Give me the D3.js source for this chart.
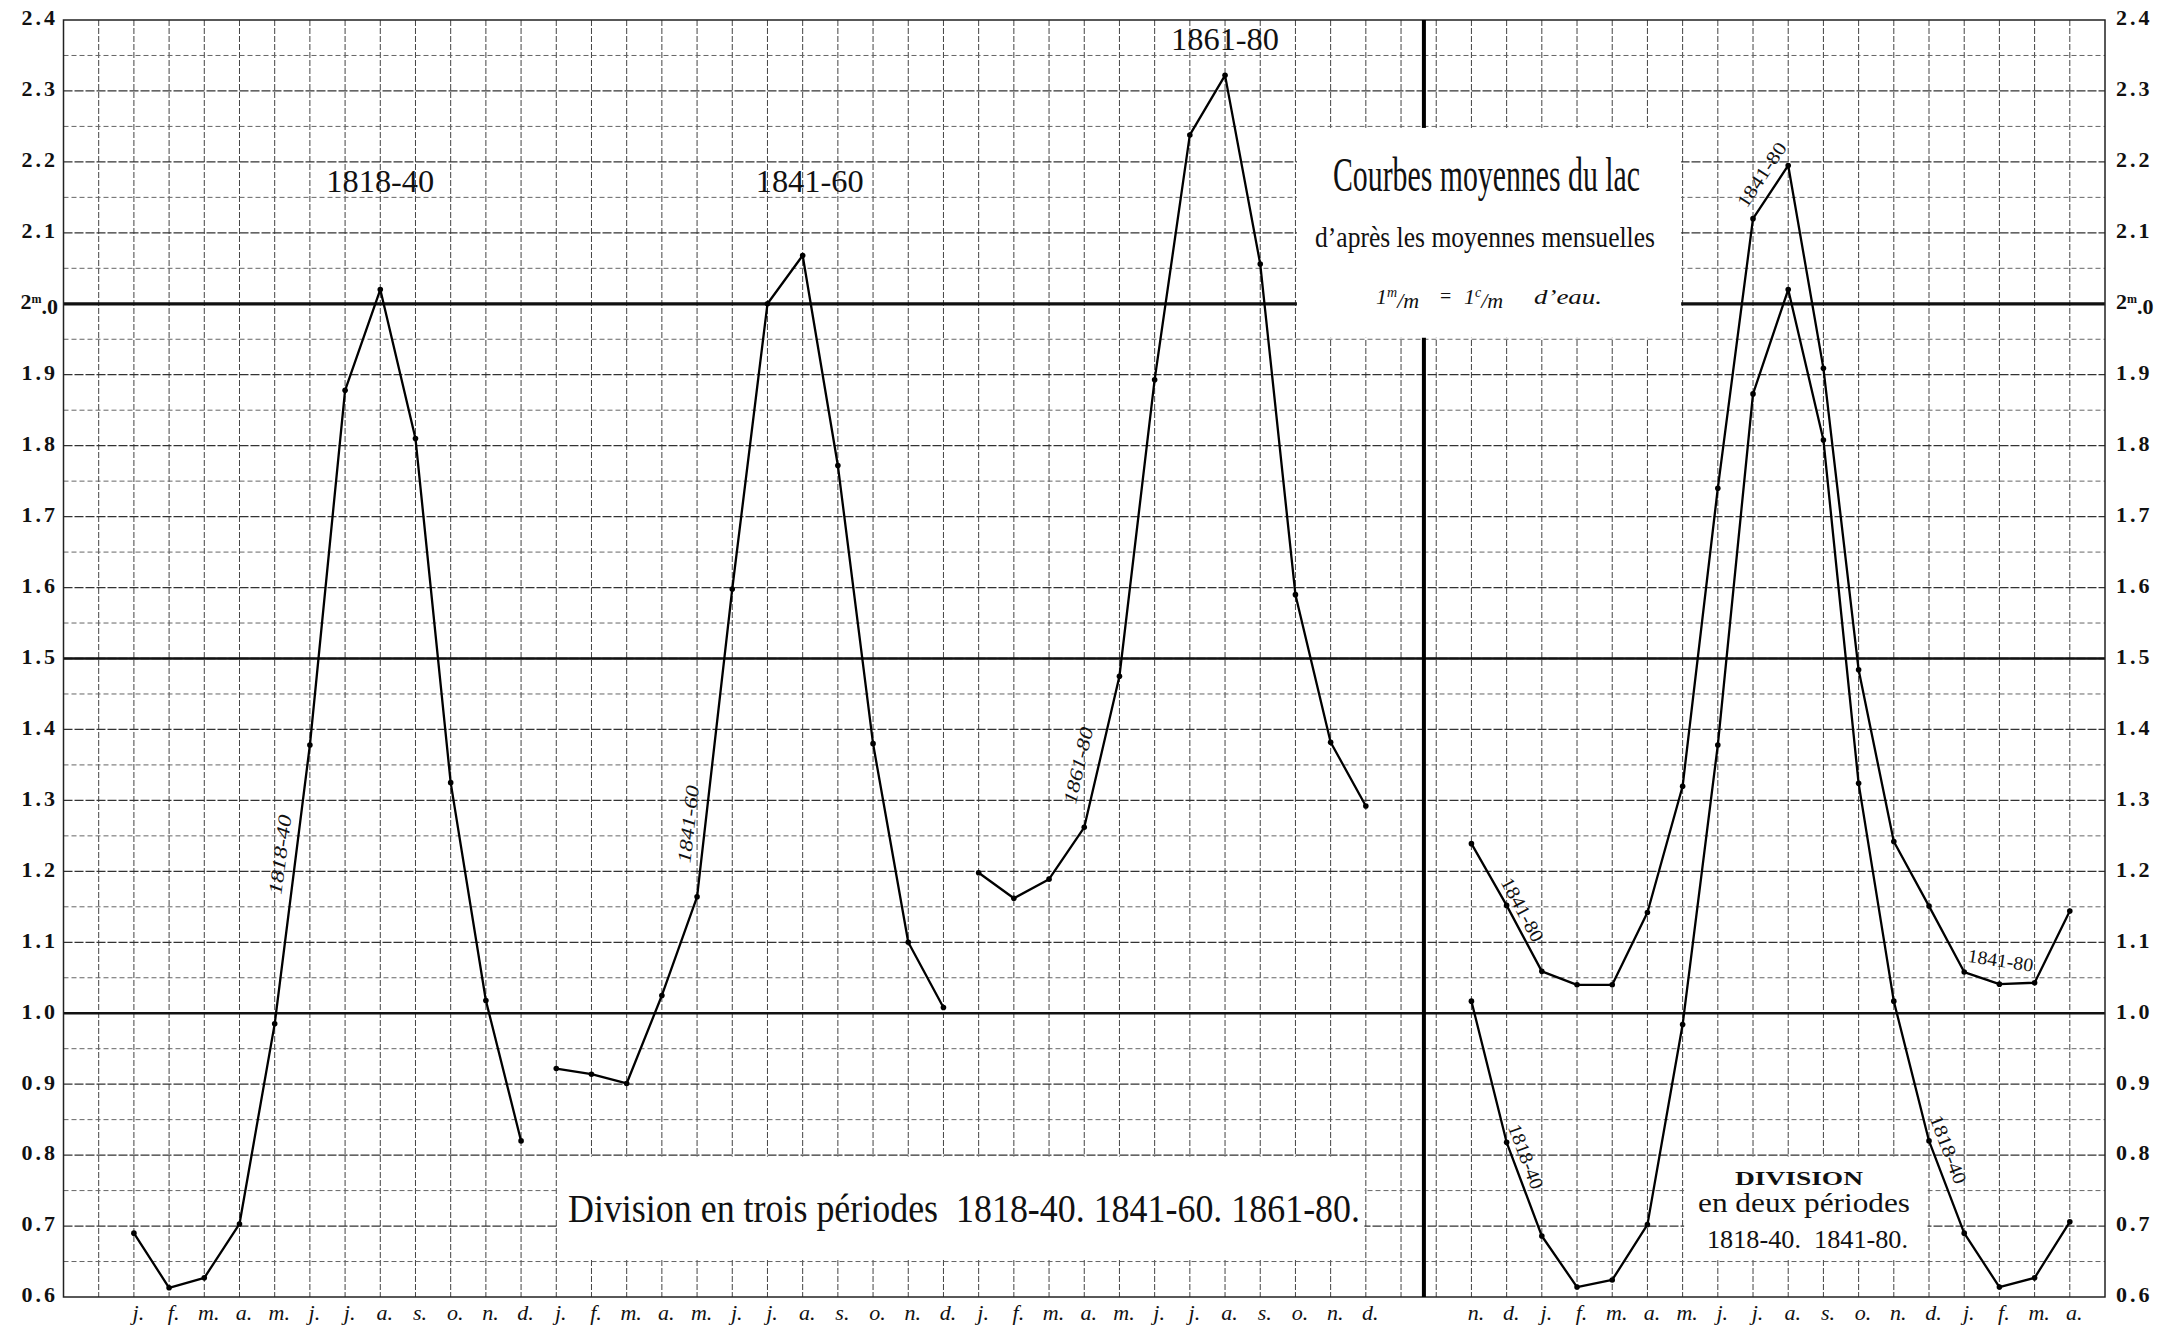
<!DOCTYPE html>
<html>
<head>
<meta charset="utf-8">
<script src="https://cdn.jsdelivr.net/npm/d3@7"></script>
<style>
  body { margin: 0; background: #fff; }
  svg { display: block; }
</style>
</head>
<body>
<div id="chart"></div>
<script>
// --- Data (metres) ---
const months = ["j.", "f.", "m.", "a.", "m.", "j.", "j.", "a.", "s.", "o.", "n.", "d."];
const rightMonths = ["n.", "d.", "j.", "f.", "m.", "a.", "m.", "j.", "j.", "a.", "s.", "o.", "n.", "d.", "j.", "f.", "m.", "a."];

const periods = ["1818-40", "1841-60", "1861-80"];
const level1818_40 = [0.69, 0.613, 0.627, 0.703, 0.985, 1.378, 1.878, 2.02, 1.81, 1.325, 1.018, 0.82];
const level1841_60 = [0.922, 0.914, 0.901, 1.025, 1.164, 1.598, 2.0, 2.068, 1.772, 1.38, 1.10, 1.008];
const level1861_80 = [1.198, 1.162, 1.189, 1.262, 1.475, 1.893, 2.238, 2.322, 2.056, 1.59, 1.382, 1.292];

// right panel: nov .. april of the year after next
const right1818_40 = [1.017, 0.818, 0.686, 0.614, 0.624, 0.702, 0.984, 1.378, 1.873, 2.02, 1.808, 1.324, 1.017, 0.82, 0.69, 0.614, 0.627, 0.706];
const right1841_80 = [1.239, 1.152, 1.059, 1.04, 1.04, 1.142, 1.32, 1.74, 2.12, 2.195, 1.909, 1.484, 1.242, 1.151, 1.058, 1.041, 1.043, 1.144];

const tickValues = [2.4, 2.3, 2.2, 2.1, 2.0, 1.9, 1.8, 1.7, 1.6, 1.5, 1.4, 1.3, 1.2, 1.1, 1.0, 0.9, 0.8, 0.7, 0.6];

const serif = "'Liberation Serif', 'DejaVu Serif', serif";

function drawChart() {
  const width = 2179, height = 1331;
  const svg = d3.select("#chart").append("svg")
    .attr("width", width)
    .attr("height", height)
    .style("background", "#fff");

  // month slots: -2 .. 56, the left block starts at 0, the right one at 38
  const x = d3.scaleLinear().domain([-2, 56]).range([63.5, 2105]);
  const y = d3.scaleLinear().domain([0.6, 2.4]).range([1297, 20]);
  const rightStart = 38;

  // --- grid ---
  const grid = svg.append("g");
  grid.selectAll(".vgrid")
    .data(d3.range(-1, 56))
    .enter().append("line")
    .attr("x1", d => x(d)).attr("x2", d => x(d))
    .attr("y1", y(2.4)).attr("y2", y(0.6))
    .attr("stroke", "#444")
    .attr("stroke-width", 1)
    .attr("stroke-dasharray", "6 2");

  const isTenth = d => Math.abs(d * 10 - Math.round(d * 10)) < 0.01;
  const hVals = d3.range(13, 48).map(k => k * 0.05).filter(v => v > 0.62 && v < 2.38);
  grid.selectAll(".hgrid")
    .data(hVals)
    .enter().append("line")
    .attr("x1", x(-2)).attr("x2", x(56))
    .attr("y1", d => y(d)).attr("y2", d => y(d))
    .attr("stroke", d => isTenth(d) ? "#333" : "#666")
    .attr("stroke-width", d => isTenth(d) ? 1.3 : 1)
    .attr("stroke-dasharray", d => isTenth(d) ? "9 2" : "5 3");

  // heavy lines at 1.0, 1.5, 2.0
  grid.selectAll(".heavy")
    .data([1.0, 1.5, 2.0])
    .enter().append("line")
    .attr("x1", x(-2)).attr("x2", x(56))
    .attr("y1", d => y(d)).attr("y2", d => y(d))
    .attr("stroke", "#111")
    .attr("stroke-width", d => d === 2.0 ? 3.2 : 2.6);

  // frame
  grid.append("rect")
    .attr("x", x(-2)).attr("y", y(2.4))
    .attr("width", x(56) - x(-2)).attr("height", y(0.6) - y(2.4))
    .attr("fill", "none").attr("stroke", "#222").attr("stroke-width", 1.5);

  // divider between the two divisions
  grid.append("line")
    .attr("x1", x(36.65)).attr("x2", x(36.65))
    .attr("y1", y(2.4)).attr("y2", y(0.6))
    .attr("stroke", "#000").attr("stroke-width", 4);

  // --- white cartouches ---
  const boxes = [
    { i0: 33, i1: 44, v0: 2.25, v1: 1.95 },
    { i0: 12, i1: 35, v0: 0.8, v1: 0.65 },
    { i0: 44, i1: 51, v0: 0.8, v1: 0.65 }
  ];
  svg.selectAll(".box")
    .data(boxes)
    .enter().append("rect")
    .attr("x", d => x(d.i0) + 1.5)
    .attr("y", d => y(d.v0) + 1.5)
    .attr("width", d => x(d.i1) - x(d.i0) - 3)
    .attr("height", d => y(d.v1) - y(d.v0) - 3)
    .attr("fill", "#fff");

  // --- series ---
  const series = [
    { name: "1818-40", start: 0, values: level1818_40 },
    { name: "1841-60", start: 12, values: level1841_60 },
    { name: "1861-80", start: 24, values: level1861_80 },
    { name: "r1818-40", start: rightStart, values: right1818_40 },
    { name: "r1841-80", start: rightStart, values: right1841_80 }
  ];
  const pts = s => s.values.map((v, k) => [s.start + k, v]);
  const line = d3.line().x(d => x(d[0])).y(d => y(d[1]));

  svg.selectAll(".curve")
    .data(series)
    .enter().append("path")
    .attr("d", d => line(pts(d)))
    .attr("fill", "none")
    .attr("stroke", "#000")
    .attr("stroke-width", 2.3)
    .attr("stroke-linejoin", "round");

  svg.selectAll(".dots")
    .data(series)
    .enter().append("g")
    .selectAll("circle")
    .data(d => pts(d))
    .enter().append("circle")
    .attr("cx", d => x(d[0]))
    .attr("cy", d => y(d[1]))
    .attr("r", 2.8)
    .attr("fill", "#000");

  // --- labels written along the curves ---
  const byName = Object.fromEntries(series.map(s => [s.name, s]));
  const curveLabels = [
    { text: "1818-40", s: "1818-40", i0: 4, i1: 5, t: 0.6, d: 16, italic: true, len: 80 },
    { text: "1841-60", s: "1841-60", i0: 16, i1: 17, t: 0.23, d: 17, italic: true, len: 78 },
    { text: "1861-80", s: "1861-80", i0: 27, i1: 28, t: 0.38, d: 20, italic: true, len: 78 },
    { text: "1841-80", s: "r1841-80", i0: 46, i1: 47, t: 0.65, d: 17, italic: false, len: 74 },
    { text: "1841-80", s: "r1841-80", i0: 39, i1: 40, t: 0.15, d: 12, italic: false, len: 70 },
    { text: "1818-40", s: "r1818-40", i0: 39, i1: 40, t: 0.2, d: 13, italic: false, len: 68 },
    { text: "1818-40", s: "r1818-40", i0: 51, i1: 52, t: 0.15, d: 15, italic: false, len: 72 },
    { text: "1841-80", s: "r1841-80", i0: 52, i1: 54, t: 0.48, d: 17, italic: false, len: 66 }
  ];
  curveLabels.forEach(l => {
    const s = byName[l.s];
    const ax = x(l.i0), ay = y(s.values[l.i0 - s.start]);
    const bx = x(l.i1), by = y(s.values[l.i1 - s.start]);
    const dx = bx - ax, dy = by - ay, len = Math.hypot(dx, dy);
    const ang = Math.atan2(dy, dx) * 180 / Math.PI;
    const nx = dy / len, ny = -dx / len;
    const cx = ax + dx * l.t + nx * l.d, cy = ay + dy * l.t + ny * l.d;
    svg.append("text")
      .attr("transform", `translate(${cx},${cy}) rotate(${ang})`)
      .attr("text-anchor", "middle")
      .attr("dominant-baseline", "central")
      .attr("textLength", l.len)
      .attr("lengthAdjust", "spacingAndGlyphs")
      .style("font-family", serif)
      .style("font-style", l.italic ? "italic" : "normal")
      .style("font-size", "19px")
      .attr("fill", "#111")
      .text(l.text);
  });

  // --- axes ---
  const fmt = d3.format(".1f");
  const yLeft = svg.append("g")
    .attr("transform", `translate(58,0)`)
    .call(d3.axisLeft(y).tickValues(tickValues).tickSize(0).tickPadding(0).tickFormat(fmt));
  const yRight = svg.append("g")
    .attr("transform", `translate(2116,0)`)
    .call(d3.axisRight(y).tickValues(tickValues).tickSize(0).tickPadding(0).tickFormat(fmt));

  [yLeft, yRight].forEach(ax => {
    ax.select(".domain").remove();
    ax.selectAll("text")
      .attr("dy", "0.22em")
      .attr("fill", "#111")
      .style("font-family", serif)
      .style("font-weight", "bold")
      .style("font-size", "22px")
      .style("letter-spacing", "3px");
    // the 2 metre mark carries the unit
    ax.selectAll(".tick text").filter(d => d === 2.0)
      .text(null)
      .style("letter-spacing", "0px")
      .call(t => {
        t.append("tspan").text("2");
        t.append("tspan").attr("dy", "-0.5em").style("font-size", "12px").text("m");
        t.append("tspan").attr("dy", "0.5em").text(".0");
      });
  });

  const monthTicks = d3.range(0, 36).concat(d3.range(rightStart, rightStart + rightMonths.length));
  const xAxis = svg.append("g")
    .attr("transform", `translate(0,${y(0.6)})`)
    .call(d3.axisBottom(x).tickValues(monthTicks).tickSize(0).tickPadding(7)
      .tickFormat(i => i < 36 ? months[i % 12] : rightMonths[i - rightStart]));
  xAxis.select(".domain").remove();
  xAxis.selectAll("text")
    .attr("dx", "4px")
    .attr("fill", "#111")
    .style("font-family", serif)
    .style("font-style", "italic")
    .style("font-size", "22px");

  // --- period titles over the curves ---
  const titleSpots = [{ i: 7, v: 2.157 }, { i: 19.2, v: 2.158 }, { i: 31, v: 2.358 }];
  svg.selectAll(".ptitle")
    .data(periods)
    .enter().append("text")
    .attr("x", (d, k) => x(titleSpots[k].i) - 54)
    .attr("y", (d, k) => y(titleSpots[k].v))
    .attr("textLength", 108)
    .attr("lengthAdjust", "spacingAndGlyphs")
    .attr("fill", "#111")
    .style("font-family", serif)
    .style("font-size", "31px")
    .text(d => d);

  // --- title cartouche ---
  const addText = (txt, xPos, yPos, size, opts = {}) => {
    const t = svg.append("text")
      .attr("x", xPos).attr("y", yPos)
      .attr("fill", "#111")
      .style("font-family", serif)
      .style("font-size", size + "px")
      .style("font-style", opts.italic ? "italic" : "normal")
      .style("font-weight", opts.bold ? "bold" : "normal")
      .text(txt);
    if (opts.len) t.attr("textLength", opts.len).attr("lengthAdjust", "spacingAndGlyphs");
    return t;
  };

  addText("Courbes moyennes du lac", 1333, 191, 48, { len: 307 });
  addText("d\u2019après les moyennes mensuelles", 1315, 247, 30, { len: 340 });

  const unit = (xPos, sup) => {
    const t = addText("1", xPos, 304, 22, { italic: true });
    t.append("tspan").attr("dy", "-0.5em").style("font-size", "14px").text(sup);
    t.append("tspan").attr("dy", "0.5em").text("/m");
  };
  unit(1376, "m");
  addText("=", 1440, 303, 20);
  unit(1464, "c");
  addText("d\u2019eau.", 1534, 304, 22, { italic: true, len: 68 });

  // --- bottom cartouches ---
  addText("Division en trois périodes\u00a0\u00a01818-40. 1841-60. 1861-80.", 568, 1222, 40, { len: 792 });

  addText("DIVISION", 1735, 1185, 19, { bold: true, len: 128 });
  addText("en deux périodes", 1698, 1212, 27, { len: 212 });
  addText("1818-40.\u00a0\u00a01841-80.", 1707, 1248, 25, { len: 201 });
}

drawChart();
</script>
</body>
</html>
